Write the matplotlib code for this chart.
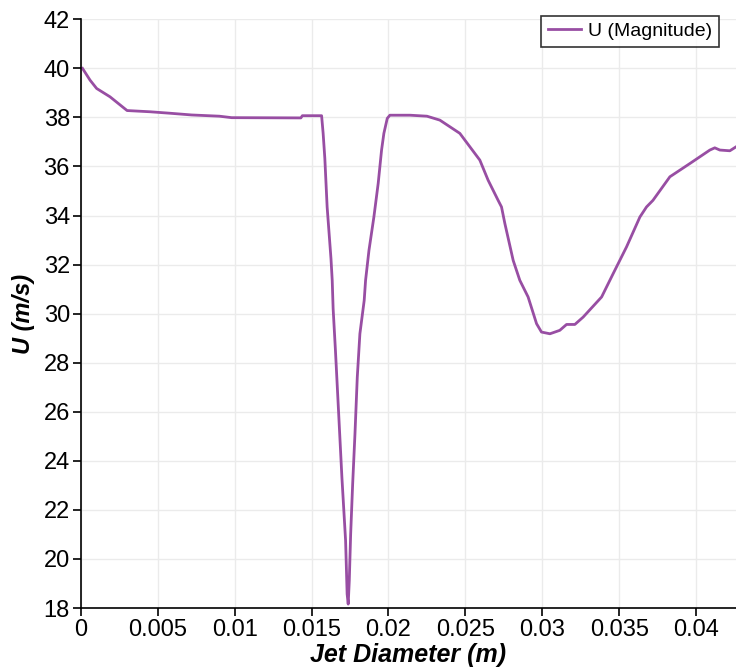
import matplotlib
matplotlib.use("Agg")
import matplotlib.pyplot as plt

# Velocity magnitude sampled across the jet
diameter = [
    0.0001, 0.00059, 0.00102, 0.00189, 0.0030, 0.0045, 0.0058, 0.0072, 0.0090,
    0.0098, 0.0143, 0.0144, 0.01565,
    # left flank of the core dip
    0.01575, 0.01586, 0.01601, 0.01626, 0.01634, 0.0164, 0.01655, 0.01676,
    0.01697, 0.01721, 0.01731, 0.01738,
    # right flank
    0.01745, 0.01754, 0.01767, 0.01782, 0.01797, 0.01814, 0.01842, 0.01851,
    0.01873, 0.01905, 0.01933, 0.01955, 0.0197, 0.01992, 0.02009,
    # outer region
    0.0214, 0.0225, 0.02334, 0.02464, 0.02594, 0.02648, 0.02713, 0.02735,
    0.02757, 0.02811, 0.02854, 0.02908, 0.02963, 0.02995, 0.0305, 0.03114,
    0.03158, 0.03212, 0.03266, 0.03386, 0.03461, 0.03548, 0.03635, 0.03678,
    0.0372, 0.0383, 0.0396, 0.0409, 0.04122, 0.04155, 0.0422, 0.0426,
]
u_mag = [
    40.0, 39.52, 39.18, 38.84, 38.28, 38.23, 38.17, 38.10, 38.05,
    37.99, 37.98, 38.07, 38.07,
    37.35, 36.33, 34.35, 32.24, 31.36, 30.2, 28.5, 25.92,
    23.33, 20.75, 18.57, 18.16,
    19.11, 21.02, 23.06, 25.10, 27.41, 29.18, 30.54, 31.36,
    32.58, 33.94, 35.31, 36.67, 37.35, 37.96, 38.09,
    38.09, 38.05, 37.89, 37.35, 36.26, 35.44, 34.62, 34.35,
    33.67, 32.17, 31.36, 30.68, 29.59, 29.25, 29.18, 29.32,
    29.56, 29.56, 29.86, 30.68, 31.63, 32.72, 33.94, 34.35,
    34.62, 35.58, 36.12, 36.67, 36.76, 36.67, 36.64, 36.8,
]

x_ticks = [0, 0.005, 0.01, 0.015, 0.02, 0.025, 0.03, 0.035, 0.04]
x_tick_labels = ["0", "0.005", "0.01", "0.015", "0.02", "0.025", "0.03", "0.035", "0.04"]
y_ticks = [18, 20, 22, 24, 26, 28, 30, 32, 34, 36, 38, 40, 42]

plt.rcParams["font.family"] = ["Liberation Sans", "DejaVu Sans"]

fig = plt.figure(figsize=(7.36, 6.70), dpi=100)
ax = fig.add_axes([0.110, 0.0925, 0.890, 0.8787])

ax.plot(diameter, u_mag, color="#984ea3", linewidth=2.0, label="U (Magnitude)")

ax.set_xlim(0, 0.0426)
ax.set_ylim(18, 42)
ax.set_xticks(x_ticks)
ax.set_xticklabels(x_tick_labels)
ax.set_yticks(y_ticks)

ax.grid(True, color="#ebebeb", linewidth=1.0)
ax.set_axisbelow(True)
for side in ("top", "right"):
    ax.spines[side].set_visible(False)
for side in ("left", "bottom"):
    ax.spines[side].set_color("black")
    ax.spines[side].set_linewidth(1.2)

ax.tick_params(axis="both", direction="out", length=6, width=1.2,
               labelsize=17, colors="black", pad=2)

ax.set_xlabel("Jet Diameter (m)", fontsize=18, fontweight="bold",
              fontstyle="italic", labelpad=1)
ax.set_ylabel("U (m/s)", fontsize=17, fontweight="bold",
              fontstyle="italic", labelpad=6)

leg = ax.legend(loc="upper right", bbox_to_anchor=(0.974, 1.006), fontsize=14,
                frameon=True, fancybox=False, handlelength=1.7,
                borderpad=0.35, handletextpad=0.35, borderaxespad=0.0)
leg.get_frame().set_edgecolor("black")
leg.get_frame().set_linewidth(1.2)

fig.savefig("out.png", dpi=100)
